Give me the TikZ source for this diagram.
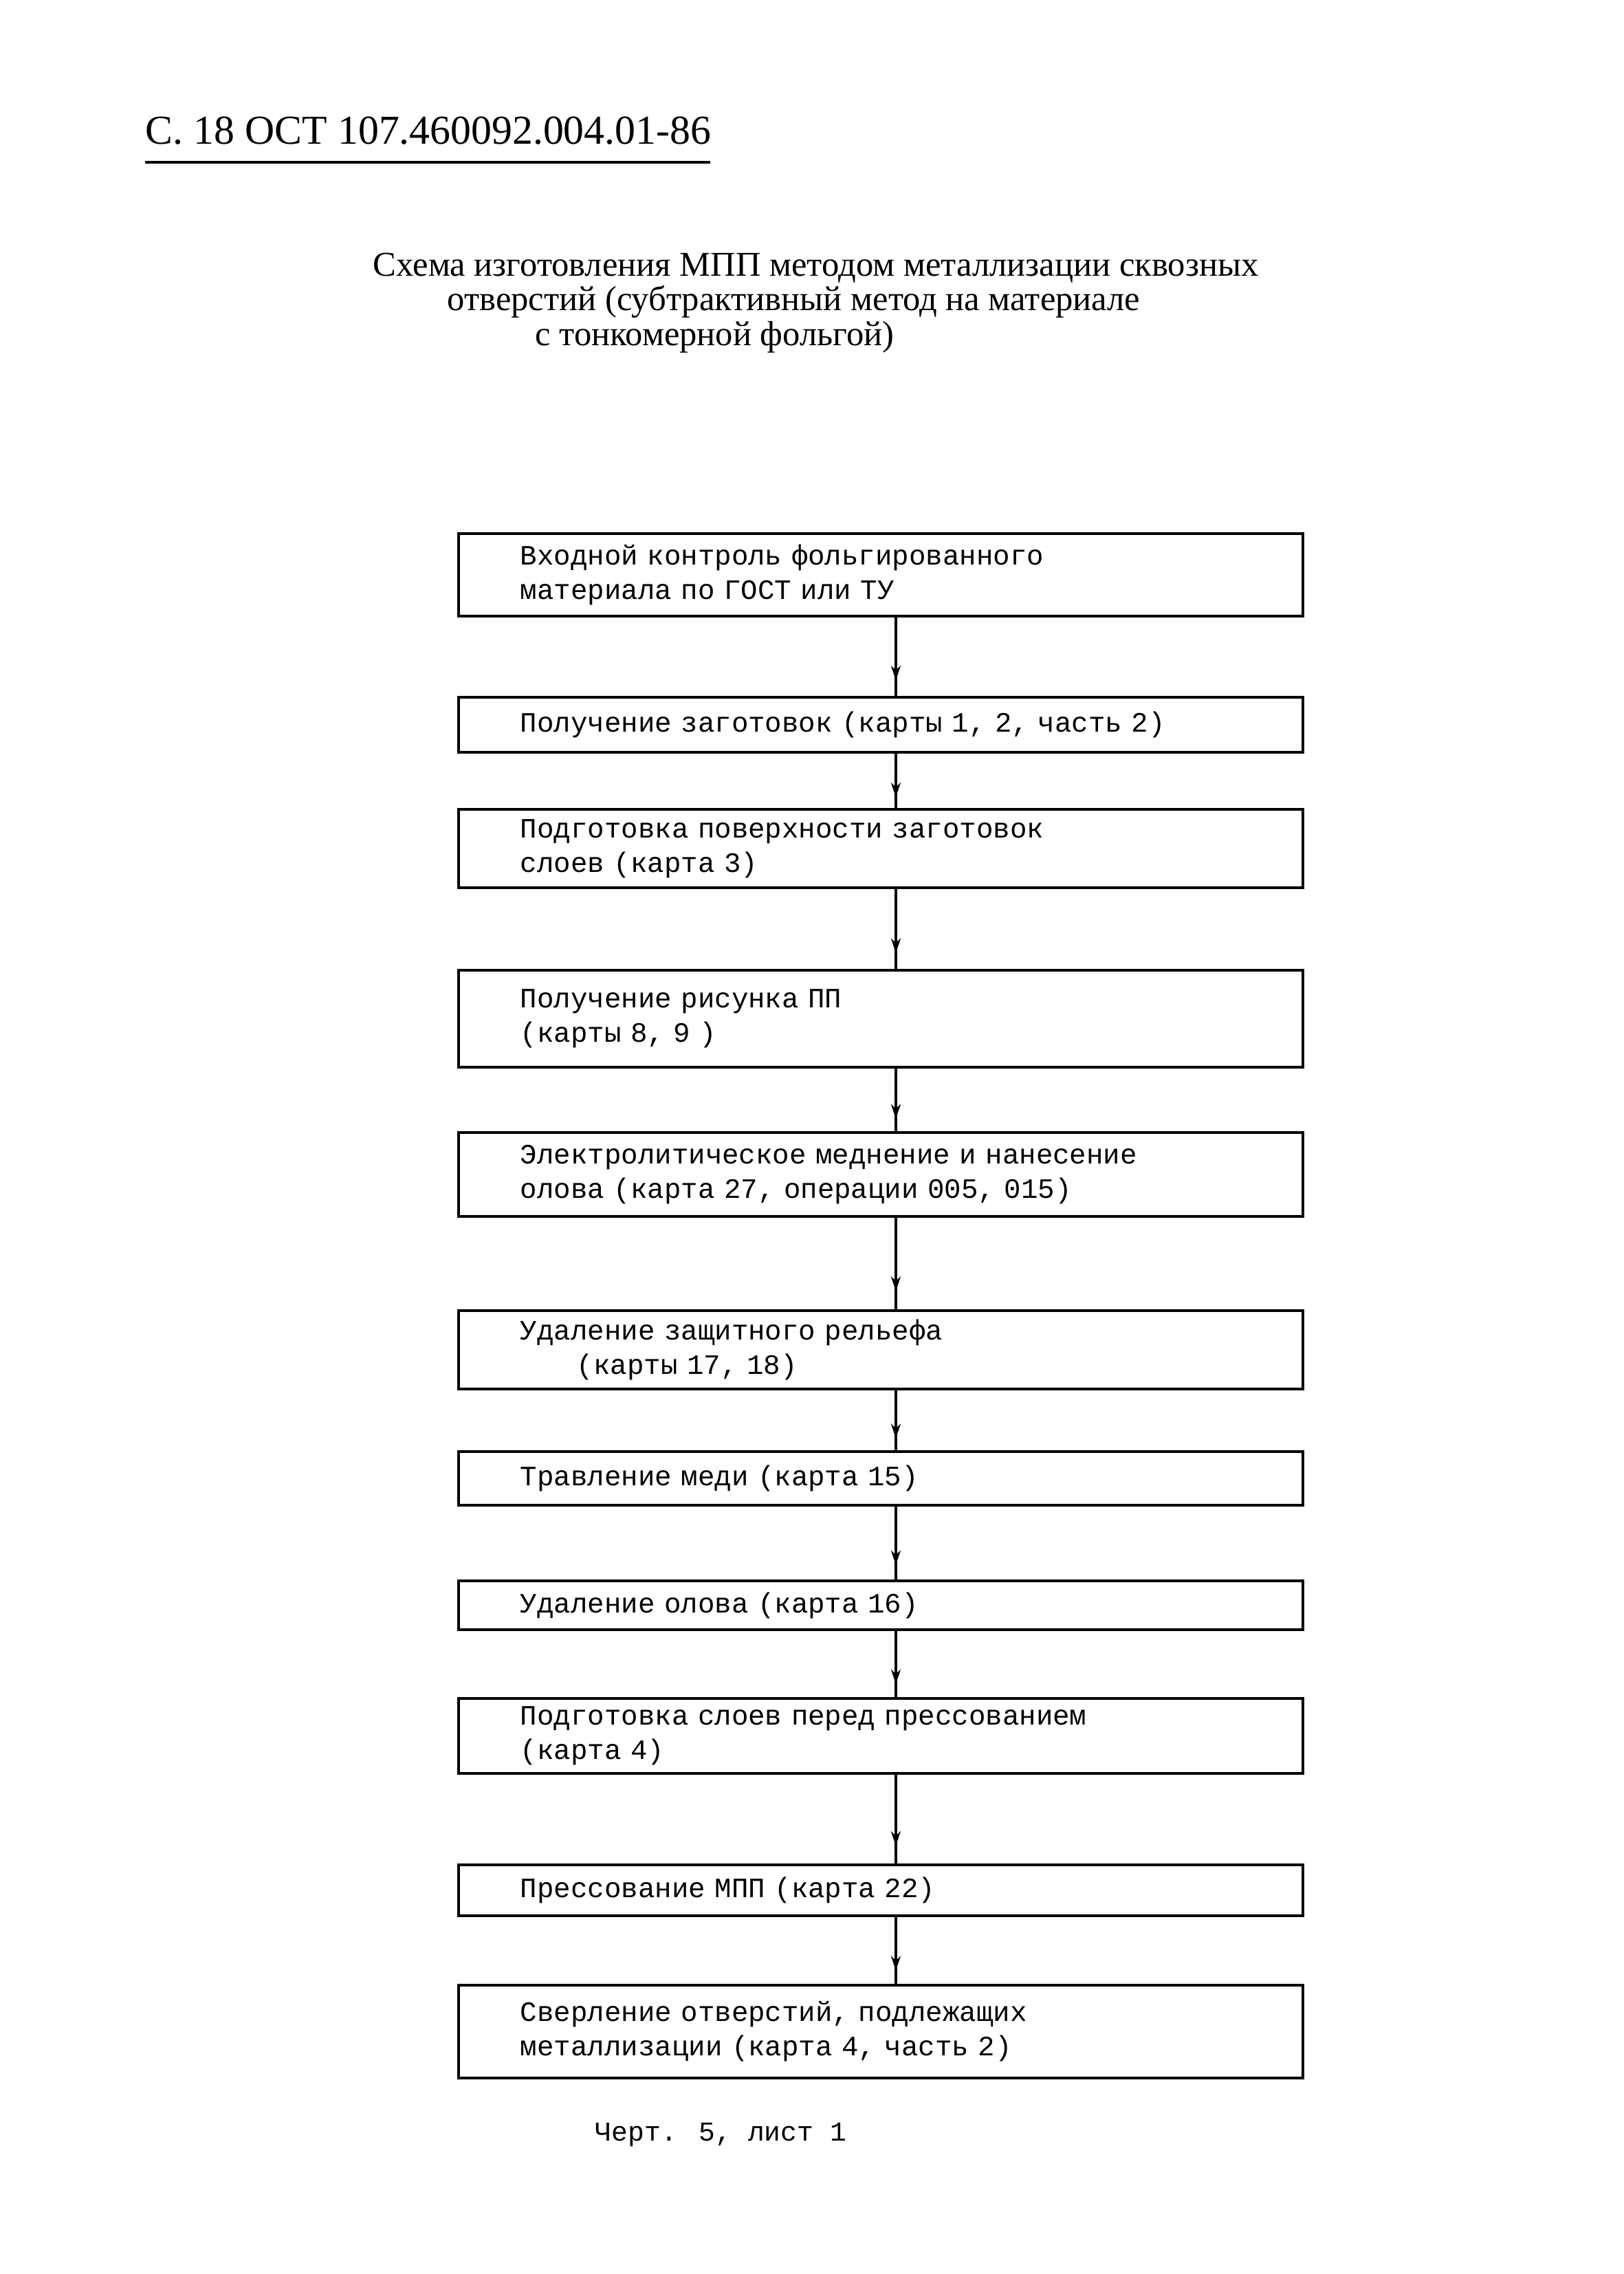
\documentclass[tikz,border=0pt]{standalone}
\usepackage{fontspec}
\setmainfont{Liberation Serif}
\newfontfamily\boxfont{Liberation Mono}
\usetikzlibrary{decorations.markings,arrows.meta}
\begin{document}
\begin{tikzpicture}[
  stepbox/.style={draw, line width=1.1pt, minimum height=#1, text width=10.48cm,
    inner xsep=0.9cm, inner ysep=0pt, align=left, anchor=north west,
    font=\boxfont\fontsize{11.6}{14.3}\selectfont},
  conn/.style={line width=1.1pt, postaction={decorate},
    decoration={markings, mark=at position 0.8 with {\arrow{Stealth[length=6pt,width=4pt]}}}},
  titletext/.style={anchor=base west, inner sep=0pt, font=\fontsize{14.4}{18}\selectfont},
]
\useasboundingbox (0,0) rectangle (23.62,-33.07);
\fill[white] (0,0) rectangle (23.62,-33.07);

% header
\node[anchor=base west, inner sep=0pt, font=\fontsize{17}{20}\selectfont] (hdr) at (2.11,-2.09) {С. 18 ОСТ 107.460092.004.01-86};
\draw[line width=1.3pt] (2.11,-2.36) -- (10.33,-2.36);

% title
\node[titletext] (ti1) at (5.42,-4.01) {Схема изготовления МПП методом металлизации сквозных};
\node[titletext] (ti2) at (6.50,-4.51) {отверстий (субтрактивный метод на материале};
\node[titletext] (ti3) at (7.78,-5.02) {с тонкомерной фольгой)};

% boxes
\node[stepbox=1.20cm] (b1) at (6.65,-7.74) {Входной контроль фольгированного\\материала по ГОСТ или ТУ};
\node[stepbox=0.80cm] (b2) at (6.65,-10.12) {Получение заготовок (карты 1, 2, часть 2)};
\node[stepbox=1.14cm] (b3) at (6.65,-11.75) {Подготовка поверхности заготовок\\слоев (карта 3)};
\node[stepbox=1.41cm] (b4) at (6.65,-14.09) {Получение рисунка ПП\\(карты 8, 9 )};
\node[stepbox=1.22cm] (b5) at (6.65,-16.45) {Электролитическое меднение и нанесение\\олова (карта 27, операции 005, 015)};
\node[stepbox=1.14cm] (b6) at (6.65,-19.04) {Удаление защитного рельефа\\\hspace*{0.82cm}(карты 17, 18)};
\node[stepbox=0.78cm] (b7) at (6.65,-21.09) {Травление меди (карта 15)};
\node[stepbox=0.71cm] (b8) at (6.65,-22.97) {Удаление олова (карта 16)};
\node[stepbox=1.09cm] (b9) at (6.65,-24.68) {Подготовка слоев перед прессованием\\(карта 4)};
\node[stepbox=0.74cm] (b10) at (6.65,-27.10) {Прессование МПП (карта 22)};
\node[stepbox=1.35cm] (b11) at (6.65,-28.85) {Сверление отверстий, подлежащих\\металлизации (карта 4, часть 2)};

% connectors
\foreach \a/\b in {b1/b2,b2/b3,b3/b4,b4/b5,b5/b6,b6/b7,b7/b8,b8/b9,b9/b10,b10/b11}
  \draw[conn] ([xshift=0.22cm]\a.south) -- ([xshift=0.22cm]\b.north);

% caption
\node[anchor=base west, inner sep=0pt, font=\boxfont\fontsize{11.3}{14}\selectfont] (cap) at (8.65,-31.13) {Черт. 5, лист 1};
\end{tikzpicture}
\end{document}
